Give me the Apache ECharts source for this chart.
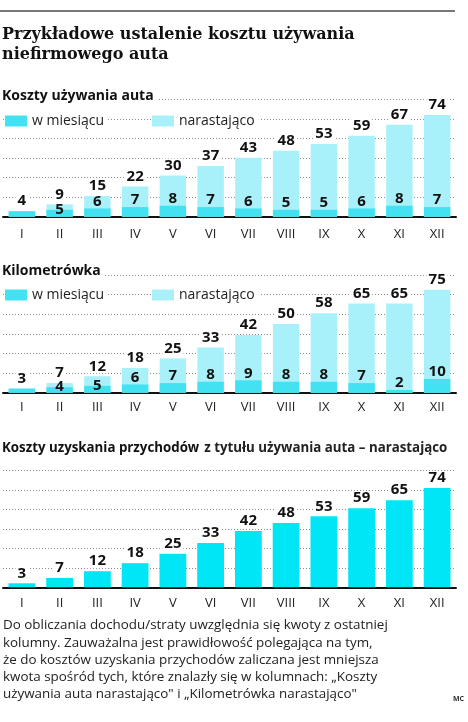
<!DOCTYPE html>
<html>
<head>
<meta charset="utf-8">
<script src="https://cdn.jsdelivr.net/npm/echarts@6/dist/echarts.min.js"></script>
<style>
  html, body { margin: 0; padding: 0; background: #fff; }
  #main { width: 468px; height: 722px; }
</style>
</head>
<body>
<div id="main"></div>
<script>
// miesiące
var months = ['I', 'II', 'III', 'IV', 'V', 'VI', 'VII', 'VIII', 'IX', 'X', 'XI', 'XII'];

// Koszty używania auta
var kosztyMies = [4, 5, 6, 7, 8, 7, 6, 5, 5, 6, 8, 7];
var kosztyNar = [4, 9, 15, 22, 30, 37, 43, 48, 53, 59, 67, 74];

// Kilometrówka
var kmMies = [3, 4, 5, 6, 7, 8, 9, 8, 8, 7, 2, 10];
var kmNar = [3, 7, 12, 18, 25, 33, 42, 50, 58, 65, 65, 75];

// Koszty uzyskania przychodów - narastająco
var kupNar = [3, 7, 12, 18, 25, 33, 42, 48, 53, 59, 65, 74];

var CYAN = '#42e2f3';
var LIGHT = '#a9f1fa';
var DEEP = '#00e6f7';
var SANS = '"Open Sans", "Noto Sans", sans-serif';

var myChart = echarts.init(document.getElementById('main'));

// wykresy - pozycje siatek (top = najwyższa linia kropkowana)
var grids = [
    { left: 3, width: 453, top: 99.7, height: 117 },
    { left: 3, width: 453, top: 275, height: 117.7 },
    { left: 3, width: 453, top: 470.7, height: 116.6 }
];
var steps = [14.2, 14.3, 14.5];
var labelMargin = [11, 8, 9];

function xAx(i) {
    return {
        type: 'category', gridIndex: i, data: months,
        axisLine: { lineStyle: { color: '#111', width: 2 } },
        axisTick: { show: false },
        axisLabel: { color: '#222', fontFamily: SANS, fontSize: 13, margin: labelMargin[i] }
    };
}
function yAx(i) {
    return {
        type: 'value', gridIndex: i, min: 0, max: +(steps[i] * 6).toFixed(1), interval: steps[i],
        axisLabel: { show: false }, axisLine: { show: false }, axisTick: { show: false },
        splitLine: { show: true, showMinLine: false, lineStyle: { color: '#8a8a8a', type: [1, 2], width: 1 } }
    };
}

var numLabel = {
    show: true, position: 'top', distance: 3, color: '#111',
    fontFamily: SANS, fontWeight: 'bold', fontSize: 15, lineHeight: 14,
    backgroundColor: '#fff', padding: [0, 2]
};

// etykiety miesięczne: w słupku narastającym, nad słupkiem miesięcznym
function monthlyData(mies, nar) {
    return mies.map(function (v, i) {
        var item = { value: v };
        if (i === 0) item.label = { show: false };
        else if (nar[i] - v < 8) item.label = { distance: -7 };
        return item;
    });
}
var mLabel = {
    show: true, position: 'top', distance: 0, color: '#111',
    fontFamily: SANS, fontWeight: 'bold', fontSize: 15, lineHeight: 14
};

function pairSeries(i, mies, nar) {
    return [{
        name: 'narastająco', type: 'bar', xAxisIndex: i, yAxisIndex: i,
        data: nar, barWidth: '70%', itemStyle: { color: LIGHT }, label: numLabel,
        silent: true, animation: false
    }, {
        name: 'w miesiącu', type: 'bar', xAxisIndex: i, yAxisIndex: i,
        data: monthlyData(mies, nar), barWidth: '70%', barGap: '-100%',
        itemStyle: { color: CYAN }, label: mLabel, silent: true, animation: false
    }];
}

function legend(left, top, name) {
    return {
        left: left, top: top, data: [name], icon: 'rect', itemWidth: 22, itemHeight: 11, itemGap: 5,
        backgroundColor: '#fff', padding: [1, 4, 1, 0], selectedMode: false,
        textStyle: { color: '#222', fontFamily: SANS, fontSize: 14, lineHeight: 16, padding: [0, 0, 0, 0] }
    };
}

var head = { color: '#111', fontFamily: SANS, fontWeight: 'bold', fontSize: 14, lineHeight: 16 };

var footer = 'Do obliczania dochodu/straty uwzględnia się kwoty z ostatniej\n' +
    'kolumny. Zauważalna jest prawidłowość polegająca na tym,\n' +
    'że do kosztów uzyskania przychodów zaliczana jest mniejsza\n' +
    'kwota spośród tych, które znalazły się w kolumnach: „Koszty\n' +
    'używania auta narastająco" i „Kilometrówka narastająco"';

myChart.setOption({
    animation: false,
    title: [{
        text: 'Przykładowe ustalenie kosztu używania\nniefirmowego auta',
        left: 0, top: 25, padding: [0, 2],
        textStyle: { color: '#111', fontFamily: '"DejaVu Serif", serif', fontWeight: 'bold', fontSize: 16, lineHeight: 20 }
    }, {
        text: 'Koszty używania auta', left: 0, top: 88, padding: [0, 4, 0, 2],
        backgroundColor: '#fff', textStyle: head
    }, {
        text: 'Kilometrówka', left: 0, top: 263, padding: [0, 4, 0, 2],
        backgroundColor: '#fff', textStyle: head
    }, {
        text: '{b|Koszty uzyskania przychodów} {n|z tytułu używania auta – narastająco}',
        left: 0, top: 439, padding: [0, 2],
        textStyle: {
            rich: {
                b: { color: '#111', fontFamily: SANS, fontWeight: 'bold', fontSize: 13.3, lineHeight: 16 },
                n: { color: '#222', fontFamily: SANS, fontSize: 13.3, lineHeight: 16 }
            }
        }
    }, {
        text: footer, left: 1, top: 617, padding: [0, 2],
        textStyle: { color: '#222', fontFamily: SANS, fontWeight: 'normal', fontSize: 13.4, lineHeight: 17.2 }
    }, {
        text: 'MC', left: 453, top: 695, padding: 0,
        textStyle: { color: '#333', fontFamily: SANS, fontWeight: 'bold', fontSize: 7 }
    }],
    legend: [
        legend(5, 112, 'w miesiącu'), legend(152, 112, 'narastająco'),
        legend(5, 286, 'w miesiącu'), legend(152, 286, 'narastająco')
    ],
    graphic: [{
        type: 'line', shape: { x1: 0, y1: 11, x2: 455, y2: 11 },
        style: { stroke: '#777', lineWidth: 2 }
    }],
    grid: grids,
    xAxis: [xAx(0), xAx(1), xAx(2)],
    yAxis: [yAx(0), yAx(1), yAx(2)],
    series: pairSeries(0, kosztyMies, kosztyNar)
        .concat(pairSeries(1, kmMies, kmNar))
        .concat([{
            name: 'koszty uzyskania', type: 'bar', xAxisIndex: 2, yAxisIndex: 2,
            data: kupNar, barWidth: '71%', itemStyle: { color: DEEP }, label: numLabel,
            silent: true, animation: false
        }])
});
</script>
</body>
</html>
